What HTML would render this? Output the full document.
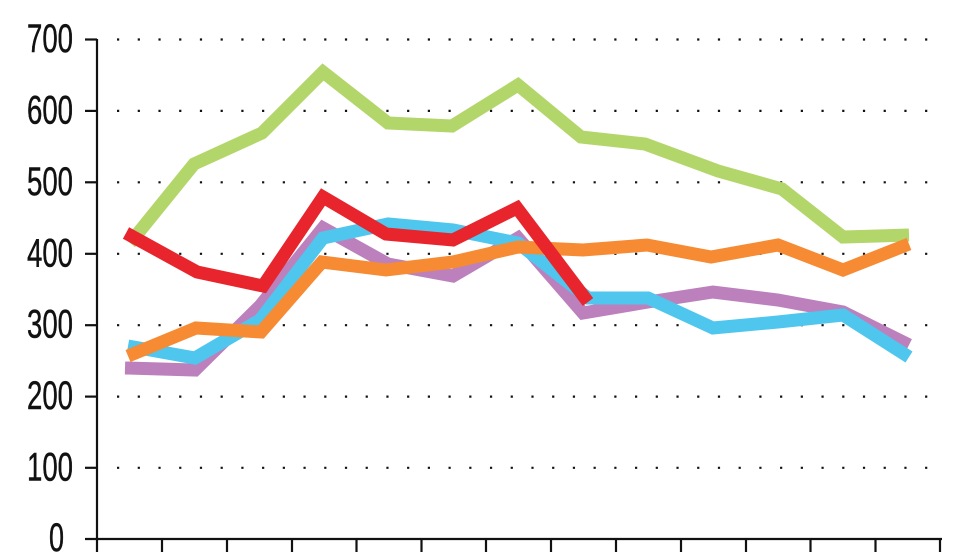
<!DOCTYPE html>
<html>
<head>
<meta charset="utf-8">
<style>
  html, body { margin:0; padding:0; background:#fff; }
  svg { display:block; }
</style>
</head>
<body>
<svg width="980" height="552" viewBox="0 0 980 552" xmlns="http://www.w3.org/2000/svg">
  <!-- dotted gridlines -->
  <g stroke="#111" stroke-width="2.2" stroke-dasharray="2.2 18.52" fill="none">
    <line x1="117" y1="39.5" x2="930" y2="39.5"/>
    <line x1="117" y1="110.9" x2="930" y2="110.9"/>
    <line x1="117" y1="182.3" x2="930" y2="182.3"/>
    <line x1="117" y1="253.8" x2="930" y2="253.8"/>
    <line x1="117" y1="325.2" x2="930" y2="325.2"/>
    <line x1="117" y1="396.6" x2="930" y2="396.6"/>
    <line x1="117" y1="467.8" x2="930" y2="467.8"/>
  </g>

  <!-- axes -->
  <g stroke="#111" stroke-width="2.2" fill="none">
    <line x1="97" y1="39" x2="97" y2="552"/>
    <line x1="85" y1="539" x2="942" y2="539"/>
    <line x1="85" y1="39.5" x2="97" y2="39.5"/>
    <line x1="85" y1="110.9" x2="97" y2="110.9"/>
    <line x1="85" y1="182.3" x2="97" y2="182.3"/>
    <line x1="85" y1="253.8" x2="97" y2="253.8"/>
    <line x1="85" y1="325.2" x2="97" y2="325.2"/>
    <line x1="85" y1="396.6" x2="97" y2="396.6"/>
    <line x1="85" y1="467.8" x2="97" y2="467.8"/>
    <line x1="162" y1="539" x2="162" y2="552"/>
    <line x1="227" y1="539" x2="227" y2="552"/>
    <line x1="292" y1="539" x2="292" y2="552"/>
    <line x1="356.5" y1="539" x2="356.5" y2="552"/>
    <line x1="421.5" y1="539" x2="421.5" y2="552"/>
    <line x1="486" y1="539" x2="486" y2="552"/>
    <line x1="551" y1="539" x2="551" y2="552"/>
    <line x1="616" y1="539" x2="616" y2="552"/>
    <line x1="681" y1="539" x2="681" y2="552"/>
    <line x1="746" y1="539" x2="746" y2="552"/>
    <line x1="810.5" y1="539" x2="810.5" y2="552"/>
    <line x1="875.5" y1="539" x2="875.5" y2="552"/>
    <line x1="940" y1="539" x2="940" y2="552"/>
  </g>

  <!-- y labels -->
  <g text-anchor="end" font-family="Liberation Sans, Arial, sans-serif" font-size="40" fill="#111" stroke="#111" stroke-width="0.5" style="font-family:'Liberation Sans', sans-serif; font-size:40px;">
    <text x="73" y="52" textLength="46" lengthAdjust="spacingAndGlyphs">700</text>
    <text x="73" y="123.4" textLength="46" lengthAdjust="spacingAndGlyphs">600</text>
    <text x="73" y="194.8" textLength="46" lengthAdjust="spacingAndGlyphs">500</text>
    <text x="73" y="266.3" textLength="46" lengthAdjust="spacingAndGlyphs">400</text>
    <text x="73" y="337.7" textLength="46" lengthAdjust="spacingAndGlyphs">300</text>
    <text x="73" y="409.1" textLength="46" lengthAdjust="spacingAndGlyphs">200</text>
    <text x="73" y="480.3" textLength="46" lengthAdjust="spacingAndGlyphs">100</text>
  </g>
  <text x="49" y="551" font-family="Liberation Sans, Arial, sans-serif" font-size="40" fill="#111" stroke="#111" stroke-width="0.5" style="font-family:'Liberation Sans', sans-serif; font-size:40px;" textLength="15" lengthAdjust="spacingAndGlyphs">0</text>

  <!-- series -->
  <g fill="none" stroke-width="13" stroke-linejoin="miter" stroke-linecap="butt">
    <polyline stroke="#bc80bd" points="125,368 195,370 260,306 323,228 388,264 453,276 518,238 583,313 648,302 713,292 778,300 843,312 909,345"/>
    <polyline stroke="#4ec6ee" points="128,346 195,358 260,320 323,238 388,224 453,230 518,243 588,298 648,298 713,328 778,322 843,315 909,357"/>
    <polyline stroke="#b3d66a" points="130,243 194,164 262,133 323,72 388,123 452,126 518,85 581,137 645,144 718,171 782,189 843,237 909,235"/>
    <polyline stroke="#f68b33" points="128,356 196,328 261,332 322,262 386,270 453,262 518,247 583,250 647,245 711,257 778,245 843,270 909,244"/>
    <polyline stroke="#e8242c" points="126,233 197,272 263,286 323,197 386,234 453,240 517,208 588,302"/>
  </g>
</svg>
</body>
</html>
